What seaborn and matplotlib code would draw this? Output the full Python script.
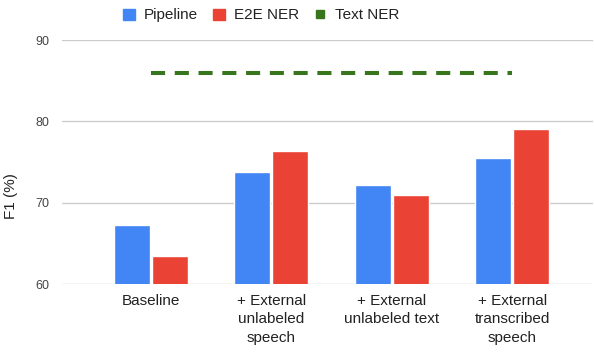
import pandas as pd
import numpy as np
import matplotlib
matplotlib.use('Agg')
import matplotlib.pyplot as plt
from matplotlib.patches import Patch
from matplotlib.lines import Line2D
import seaborn as sns

categories = ['Baseline', '+ External\nunlabeled\nspeech',
              '+ External\nunlabeled text', '+ External\ntranscribed\nspeech']
pipeline = [67.3, 73.8, 72.2, 75.5]
e2e_ner = [63.4, 76.4, 70.9, 79.1]
text_ner = [85.9, 85.9, 85.9, 85.9]
yticks = [60, 70, 80, 90]

blue = '#4285f4'
red = '#ea4335'
green = '#38761d'
grey = '#444444'

sns.set_theme(style='white')
plt.rcParams['font.family'] = ['Liberation Sans', 'DejaVu Sans']

df = pd.DataFrame({
    'category': categories * 2,
    'F1': pipeline + e2e_ner,
    'model': ['Pipeline'] * 4 + ['E2E NER'] * 4,
})

fig = plt.figure(figsize=(5.94, 3.52), dpi=100)
ax = fig.add_axes([0.104, 0.193, 0.894, 0.693])

sns.barplot(data=df, x='category', y='F1', hue='model',
            palette=[blue, red], width=0.63, gap=0.05,
            saturation=1, legend=False, ax=ax)

# text NER reference line across groups
ax.plot(np.arange(len(categories)), text_ner, color=green, lw=2.9,
        dashes=(3.5, 2.4), solid_capstyle='butt')

ax.set_ylim(60, 90)
ax.set_yticks(yticks)
ax.set_xlim(-0.74, 3.67)
ax.grid(axis='y', color='#cccccc', lw=1)
ax.set_axisbelow(True)
for s in ax.spines.values():
    s.set_visible(False)
ax.tick_params(axis='y', labelsize=9, colors=grey, length=0, pad=9)
ax.tick_params(axis='x', labelsize=11, colors='#222222', length=0, pad=7)
for t in ax.get_xticklabels():
    t.set_linespacing(1.4)
ax.set_xlabel('')
ax.set_ylabel('F1 (%)', fontsize=11, color='#222222')
ax.yaxis.set_label_coords(-0.082, 0.36)

handles = [Patch(color=blue, label='Pipeline'),
           Patch(color=red, label='E2E NER'),
           Line2D([], [], marker='s', ls='', color=green, markersize=5.5,
                  label='Text NER')]
fig.legend(handles=handles, loc='upper center', bbox_to_anchor=(0.44, 1.015),
           ncol=3, frameon=False, fontsize=11, handlelength=0.75,
           handleheight=0.75, handletextpad=0.6, columnspacing=1.0,
           labelcolor='#222222')

fig.savefig('out.png', dpi=100)
